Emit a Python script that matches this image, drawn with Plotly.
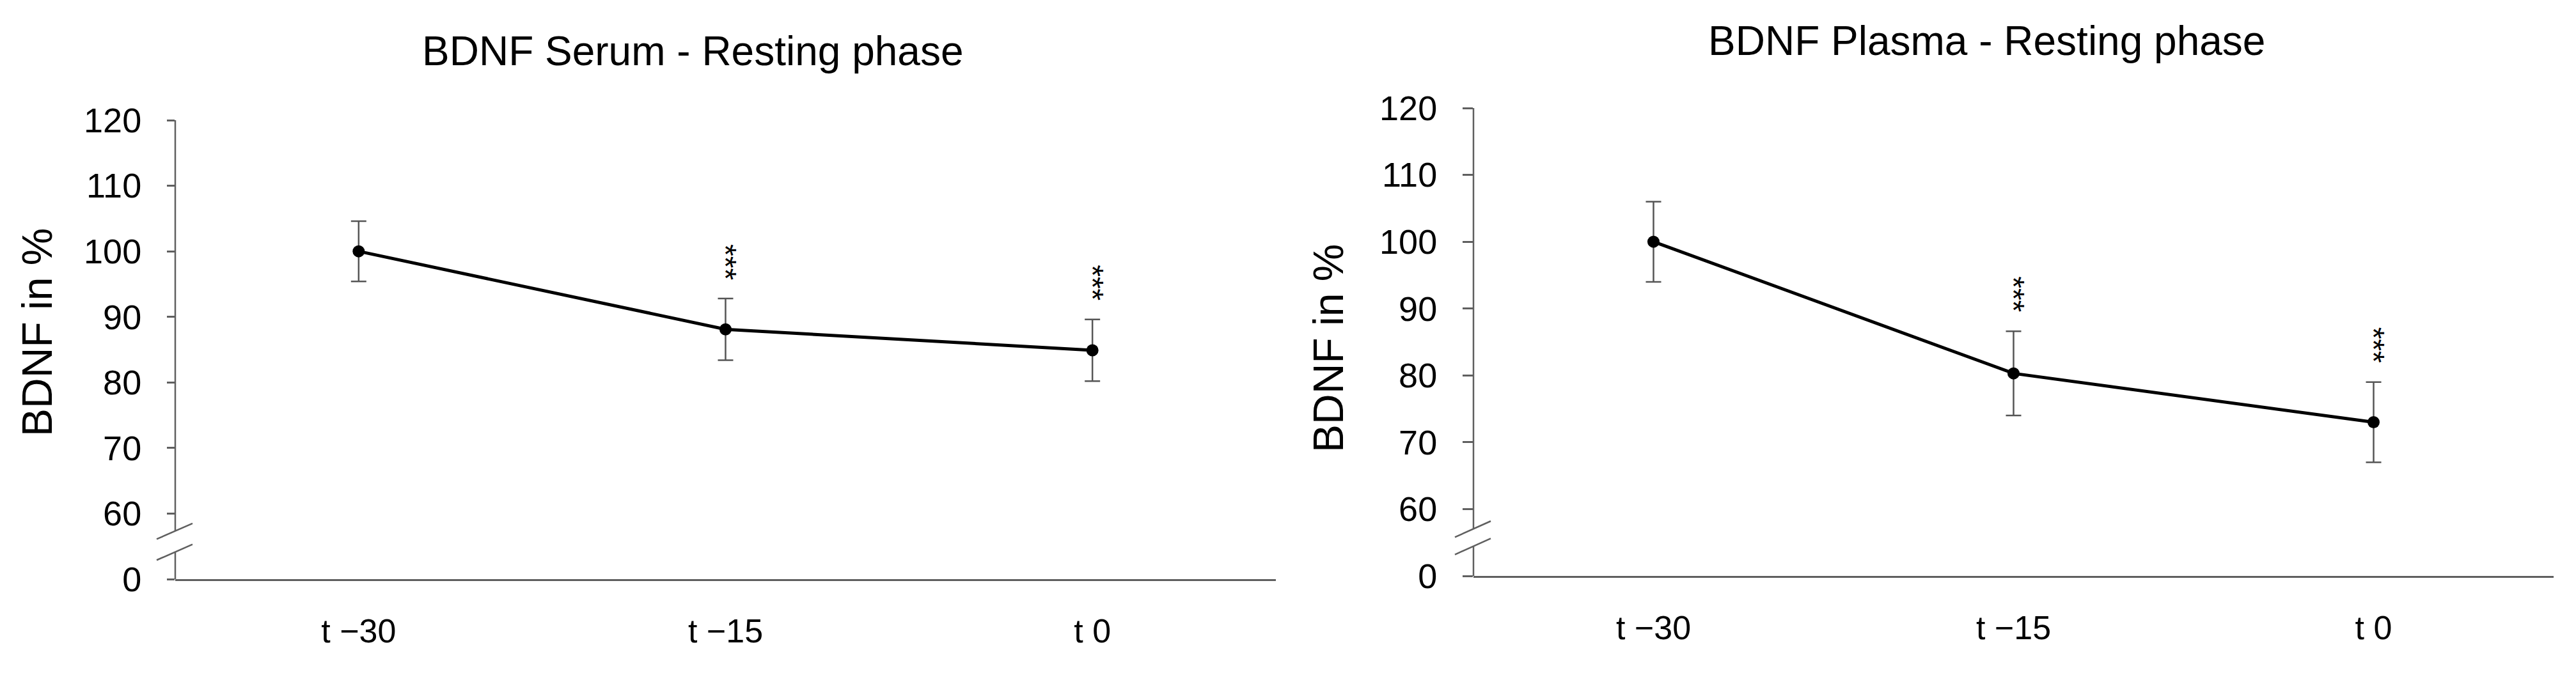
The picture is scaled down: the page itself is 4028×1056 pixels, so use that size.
import plotly.graph_objects as go

# ---------------- data ----------------
categories = ["t \u221230", "t \u221215", "t 0"]

serum_mean = [100.0, 88.1, 84.9]
serum_err = [4.6, 4.7, 4.7]
serum_sig = ["", "***", "***"]

plasma_mean = [100.0, 80.3, 73.0]
plasma_err = [6.0, 6.3, 6.0]
plasma_sig = ["", "***", "***"]

ytick_vals = [50, 60, 70, 80, 90, 100, 110, 120]
ytick_text = ["0", "60", "70", "80", "90", "100", "110", "120"]

titles = ["BDNF Serum - Resting phase", "BDNF Plasma - Resting phase"]
ytitle = "BDNF in %"

# ---------------- style ----------------
W, H = 4028, 1056
FONT = "Liberation Sans, Arial, sans-serif"
AX = "#5f5f5f"
AXW = 2.5

fig = go.Figure()

panels = [
    dict(mean=serum_mean, err=serum_err, sig=serum_sig, xa="x", ya="y",
         xdom=(266, 1987), ydom=(180, 898), ticklen=12,
         brk_gap=(54.2, 57.4), brk_lo=(52.9, 55.3), brk_hi=(56.1, 58.5),
         title_xy=(1075, 72), ytitle_xy=(50, 512)),
    dict(mean=plasma_mean, err=plasma_err, sig=plasma_sig, xa="x2", ya="y2",
         xdom=(2296, 3985), ydom=(161, 893), ticklen=16,
         brk_gap=(54.4, 57.0), brk_lo=(53.2, 55.6), brk_hi=(55.8, 58.2),
         title_xy=(3098, 56), ytitle_xy=(2069, 537)),
]

shapes = []
annotations = []
for i, p in enumerate(panels):
    fig.add_trace(go.Scatter(
        x=categories, y=p["mean"], xaxis=p["xa"], yaxis=p["ya"],
        mode="lines+markers",
        line=dict(color="black", width=5),
        marker=dict(color="black", size=19),
        error_y=dict(type="data", array=p["err"], visible=True,
                     color="#555555", thickness=2.5, width=12),
        showlegend=False, cliponaxis=False,
    ))
    sfx = "" if i == 0 else "2"
    x0, x1 = p["xdom"]
    yt, yb = p["ydom"]
    fig.update_layout(**{
        "xaxis" + sfx: dict(
            domain=[x0 / W, x1 / W], anchor="y" + sfx, type="category",
            range=[-0.5, 2.5], showline=True, linecolor=AX, linewidth=AXW,
            ticks="", showgrid=False, zeroline=False, automargin=False,
            tickfont=dict(family=FONT, size=52, color="black"),
            ticklabelstandoff=34,
        ),
        "yaxis" + sfx: dict(
            domain=[1 - yb / H, 1 - yt / H], anchor="x" + sfx,
            range=[50, 120], tickvals=ytick_vals, ticktext=ytick_text,
            showline=False, ticks="outside", ticklen=p["ticklen"],
            tickwidth=AXW, tickcolor=AX, showgrid=False, zeroline=False,
            automargin=False,
            tickfont=dict(family=FONT, size=54, color="black"),
            ticklabelstandoff=29,
        ),
    })
    xd = p["xa"] + " domain"
    # broken y axis line
    shapes.append(dict(type="line", xref=xd, yref=p["ya"], x0=0, x1=0,
                       y0=50, y1=p["brk_gap"][0], line=dict(color=AX, width=AXW)))
    shapes.append(dict(type="line", xref=xd, yref=p["ya"], x0=0, x1=0,
                       y0=p["brk_gap"][1], y1=120, line=dict(color=AX, width=AXW)))
    # break marks
    dl = -29 / (x1 - x0)
    dr = 27 / (x1 - x0)
    shapes.append(dict(type="line", xref=xd, yref=p["ya"], x0=dl, x1=dr,
                       y0=p["brk_lo"][0], y1=p["brk_lo"][1], line=dict(color=AX, width=2.5)))
    shapes.append(dict(type="line", xref=xd, yref=p["ya"], x0=dl, x1=dr,
                       y0=p["brk_hi"][0], y1=p["brk_hi"][1], line=dict(color=AX, width=2.5)))

    # significance stars
    for c, m, e, s in zip(categories, p["mean"], p["err"], p["sig"]):
        if s:
            annotations.append(dict(x=c, y=m + e + 5.6, xref=p["xa"], yref=p["ya"],
                                    text=s, showarrow=False, textangle=90,
                                    font=dict(family=FONT, size=48, color="black"),
                                    xanchor="center", yanchor="middle"))
    # title
    tx, ty = p["title_xy"]
    annotations.append(dict(x=tx / W, y=1 - ty / H, xref="paper", yref="paper",
                            text=titles[i], showarrow=False,
                            font=dict(family=FONT, size=64, color="black"),
                            xanchor="center", yanchor="middle"))
    # y title
    yx, yy = p["ytitle_xy"]
    annotations.append(dict(x=yx / W, y=1 - yy / H, xref="paper", yref="paper",
                            text=ytitle, showarrow=False, textangle=-90,
                            font=dict(family=FONT, size=66, color="black"),
                            xanchor="center", yanchor="middle"))

fig.update_layout(
    width=W, height=H, margin=dict(l=0, r=0, t=0, b=0, pad=0, autoexpand=False),
    paper_bgcolor="white", plot_bgcolor="white",
    shapes=shapes, annotations=annotations,
    font=dict(family=FONT, color="black"),
)

fig.write_html("out.html")
